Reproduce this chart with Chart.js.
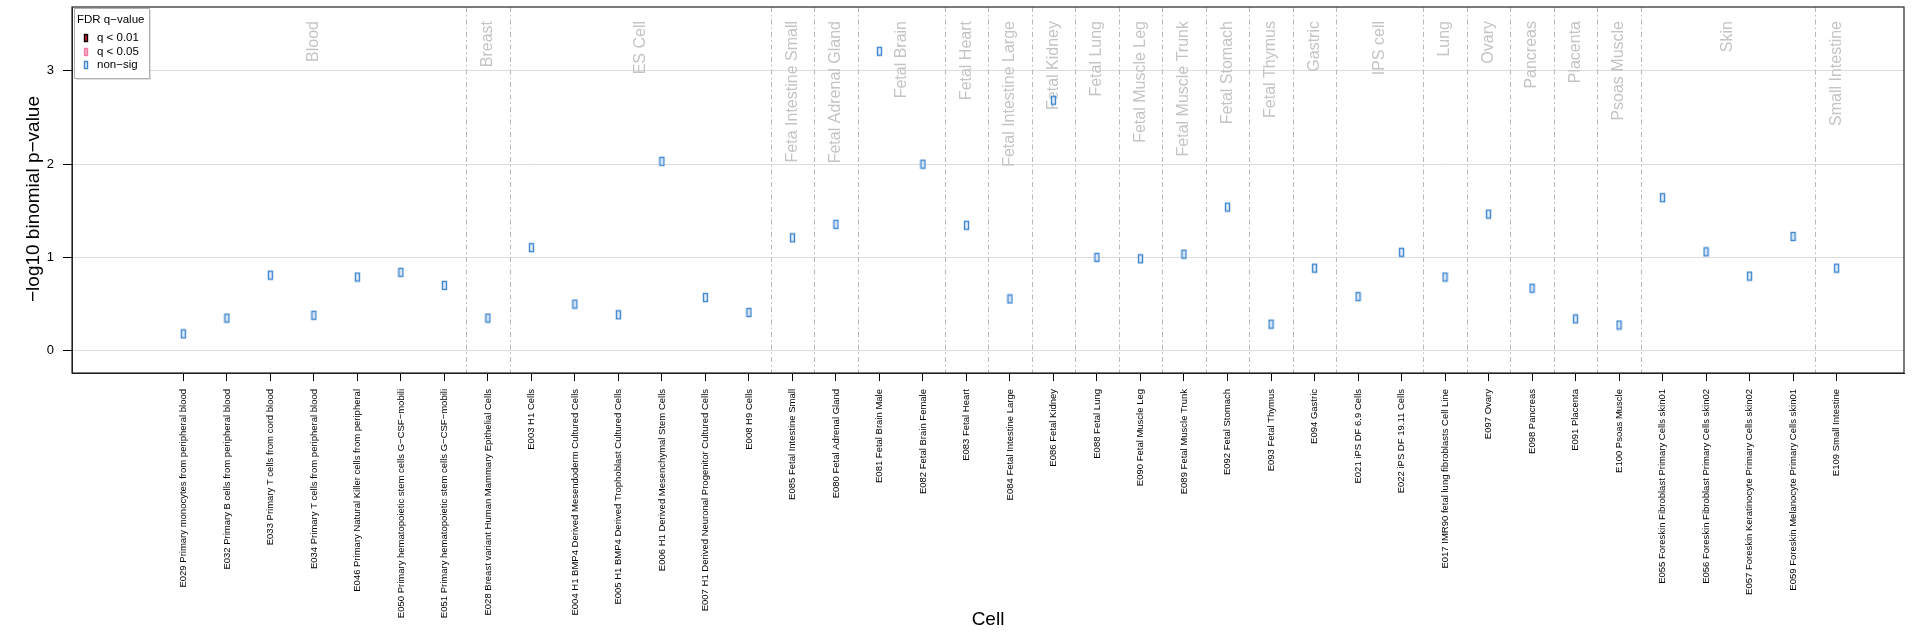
<!DOCTYPE html>
<html>
<head>
<meta charset="utf-8">
<script src="https://cdn.jsdelivr.net/npm/chart.js@4.4.1/dist/chart.umd.min.js"></script>
<style>
  body { margin: 0; background: #fff; }
  #enrich { display: block; }
</style>
</head>
<body>
<canvas id="enrich" width="1913" height="638"></canvas>
<script>
// cell types, in plotting order
const cellLabels = [
  "E029 Primary monocytes from peripheral blood",
  "E032 Primary B cells from peripheral blood",
  "E033 Primary T cells from cord blood",
  "E034 Primary T cells from peripheral blood",
  "E046 Primary Natural Killer cells from peripheral",
  "E050 Primary hematopoietic stem cells G\u2212CSF\u2212mobili",
  "E051 Primary hematopoietic stem cells G\u2212CSF\u2212mobili",
  "E028 Breast variant Human Mammary Epithelial Cells",
  "E003 H1 Cells",
  "E004 H1 BMP4 Derived Mesendoderm Cultured Cells",
  "E005 H1 BMP4 Derived Trophoblast Cultured Cells",
  "E006 H1 Derived Mesenchymal Stem Cells",
  "E007 H1 Derived Neuronal Progenitor Cultured Cells",
  "E008 H9 Cells",
  "E085 Fetal Intestine Small",
  "E080 Fetal Adrenal Gland",
  "E081 Fetal Brain Male",
  "E082 Fetal Brain Female",
  "E083 Fetal Heart",
  "E084 Fetal Intestine Large",
  "E086 Fetal Kidney",
  "E088 Fetal Lung",
  "E090 Fetal Muscle Leg",
  "E089 Fetal Muscle Trunk",
  "E092 Fetal Stomach",
  "E093 Fetal Thymus",
  "E094 Gastric",
  "E021 iPS DF 6.9 Cells",
  "E022 iPS DF 19.11 Cells",
  "E017 IMR90 fetal lung fibroblasts Cell Line",
  "E097 Ovary",
  "E098 Pancreas",
  "E091 Placenta",
  "E100 Psoas Muscle",
  "E055 Foreskin Fibroblast Primary Cells skin01",
  "E056 Foreskin Fibroblast Primary Cells skin02",
  "E057 Foreskin Keratinocyte Primary Cells skin02",
  "E059 Foreskin Melanocyte Primary Cells skin01",
  "E109 Small Intestine"
];

// tissue groups and how many cells each covers
const groupNames = ["Blood", "Breast", "ES Cell", "Feta Intestine Small", "Fetal Adrenal Gland",
  "Fetal Brain", "Fetal Heart", "Fetal Intestine Large", "Fetal Kidney", "Fetal Lung",
  "Fetal Muscle Leg", "Fetal Muscle Trunk", "Fetal Stomach", "Fetal Thymus", "Gastric",
  "IPS cell", "Lung", "Ovary", "Pancreas", "Placenta", "Psoas Muscle", "Skin", "Small Intestine"];
const groupSizes = [7, 1, 6, 1, 1, 2, 1, 1, 1, 1, 1, 1, 1, 1, 1, 2, 1, 1, 1, 1, 1, 4, 1];

// -log10 binomial p-values
const negLogP = [0.18, 0.35, 0.81, 0.38, 0.79, 0.84, 0.70,
  0.35,
  1.105, 0.50, 0.385, 2.03, 0.57, 0.41,
  1.21, 1.355, 3.21, 2.0, 1.345, 0.555, 2.685, 1.0, 0.985, 1.035, 1.54, 0.285, 0.885,
  0.58, 1.055,
  0.79, 1.465, 0.67, 0.34, 0.275,
  1.64, 1.06, 0.80, 1.225,
  0.885];

const yTicks = [0, 1, 2, 3];
const fdrLabels = ["q < 0.01", "q < 0.05", "non\u2212sig"];
const yTitle = '\u2212log10 binomial p\u2212value';

const FONT = '"Liberation Sans", Arial, sans-serif';

// little upright box marker used for the points
function boxMarker(stroke, fill, w, h) {
  const c = document.createElement('canvas');
  c.width = w + 2;
  c.height = h + 2;
  const g = c.getContext('2d');
  g.fillStyle = fill;
  g.fillRect(1, 1, w, h);
  g.strokeStyle = stroke;
  g.lineWidth = 1.4;
  g.strokeRect(1.5, 1.5, w - 1, h - 1);
  return c;
}

const fdrStyles = [
  { stroke: '#000000', fill: '#e02020' },
  { stroke: '#f07fa6', fill: '#f7a6c2' },
  { stroke: '#3f86cf', fill: '#e3eefa' }
];

const pointMarker = boxMarker(fdrStyles[2].stroke, fdrStyles[2].fill, 5, 9);

// group separators, grey tissue names, box, y title and the legend
const decorations = {
  id: 'decorations',
  beforeDatasetsDraw(chart) {
    const ctx = chart.ctx;
    const area = chart.chartArea;
    const xs = chart.scales.x;
    ctx.save();
    let start = 0;
    groupSizes.forEach((n, gi) => {
      const end = start + n - 1;
      if (gi < groupSizes.length - 1) {
        const px = Math.round(xs.getPixelForValue(end + 0.5)) + 0.5;
        ctx.strokeStyle = '#b8b8b8';
        ctx.lineWidth = 1;
        ctx.setLineDash([5, 3, 1.5, 3]);
        ctx.beginPath();
        ctx.moveTo(px, area.top);
        ctx.lineTo(px, area.bottom);
        ctx.stroke();
      }
      const cx = xs.getPixelForValue((start + end) / 2);
      ctx.setLineDash([]);
      ctx.save();
      ctx.translate(cx, area.top + 14);
      ctx.rotate(-Math.PI / 2);
      ctx.font = '16px ' + FONT;
      ctx.fillStyle = '#c4c4c4';
      ctx.textAlign = 'right';
      ctx.textBaseline = 'middle';
      ctx.fillText(groupNames[gi], 0, 0);
      ctx.restore();
      start += n;
    });
    ctx.restore();
  },
  afterDraw(chart) {
    const ctx = chart.ctx;
    const area = chart.chartArea;
    ctx.save();
    ctx.strokeStyle = '#333';
    ctx.lineWidth = 1.3;
    ctx.strokeRect(area.left, area.top, area.right - area.left, area.bottom - area.top);

    // y axis title, sits a bit below the middle of the plot
    ctx.save();
    ctx.translate(34, (area.top + area.bottom) / 2 + 9);
    ctx.rotate(-Math.PI / 2);
    ctx.font = '19px ' + FONT;
    ctx.fillStyle = '#000';
    ctx.textAlign = 'center';
    ctx.textBaseline = 'middle';
    ctx.fillText(yTitle, 0, 0);
    ctx.restore();

    // legend box
    const lx = area.left + 2, ly = area.top + 1, lw = 75, lh = 70;
    ctx.fillStyle = 'rgba(0,0,0,0.12)';
    ctx.fillRect(lx + 2, ly + 2, lw, lh);
    ctx.fillStyle = '#fff';
    ctx.fillRect(lx, ly, lw, lh);
    ctx.strokeStyle = '#b0b0b0';
    ctx.lineWidth = 1;
    ctx.strokeRect(lx + 0.5, ly + 0.5, lw, lh);
    ctx.font = '11.5px ' + FONT;
    ctx.fillStyle = '#000';
    ctx.textAlign = 'left';
    ctx.textBaseline = 'middle';
    ctx.fillText('FDR q\u2212value', lx + 3, ly + 12);
    fdrLabels.forEach((lab, i) => {
      const rowY = ly + 30 + i * 13.5;
      const m = boxMarker(fdrStyles[i].stroke, fdrStyles[i].fill, 4, 8);
      ctx.drawImage(m, lx + 12 - m.width / 2, Math.round(rowY - m.height / 2));
      ctx.fillStyle = '#000';
      ctx.fillText(lab, lx + 23, rowY);
    });
    ctx.restore();
  }
};

const chart = new Chart(document.getElementById('enrich'), {
  type: 'scatter',
  data: {
    datasets: [{
      label: fdrLabels[2],
      data: negLogP.map((v, i) => ({ x: i, y: v })),
      pointStyle: pointMarker,
      pointRadius: 4,
      clip: false
    }]
  },
  options: {
    responsive: false,
    animation: false,
    layout: { padding: { top: 7, right: 9, left: 0, bottom: 0 } },
    plugins: {
      legend: { display: false },
      tooltip: { enabled: false }
    },
    scales: {
      x: {
        type: 'linear',
        min: -2.56,
        max: 39.55,
        afterBuildTicks: scale => { scale.ticks = cellLabels.map((_, i) => ({ value: i })); },
        afterFit: scale => {
          scale.height = 265;
          scale.paddingLeft = 0;
          scale.paddingRight = 0;
        },
        ticks: {
          autoSkip: false,
          minRotation: 90,
          maxRotation: 90,
          padding: 8,
          color: '#000',
          font: { family: FONT, size: 9.5 },
          callback: v => cellLabels[v]
        },
        grid: { drawOnChartArea: false, drawTicks: true, tickLength: 8, tickColor: '#000' },
        border: { display: true, color: '#000' },
        title: {
          display: true,
          text: 'Cell',
          color: '#000',
          font: { family: FONT, size: 19 },
          padding: { top: 0, bottom: 7 }
        }
      },
      y: {
        min: -0.239,
        max: 3.685,
        afterBuildTicks: scale => { scale.ticks = yTicks.map(v => ({ value: v })); },
        afterFit: scale => {
          scale.width = 72;
          scale.paddingTop = 0;
          scale.paddingBottom = 0;
        },
        ticks: {
          padding: 9,
          color: '#000',
          font: { family: FONT, size: 13 }
        },
        grid: { color: '#dddddd', tickColor: '#000', tickLength: 9 },
        border: { display: true, color: '#000' }
      }
    }
  },
  plugins: [decorations]
});
</script>
</body>
</html>
